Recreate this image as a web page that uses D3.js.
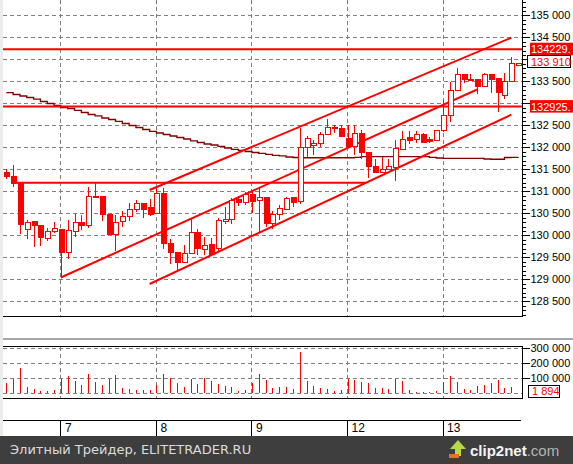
<!DOCTYPE html>
<html>
<head>
<meta charset="utf-8">
<script src="https://cdn.jsdelivr.net/npm/d3@7"></script>
<style>
  html, body { margin: 0; padding: 0; background: #fff; }
  svg { display: block; font-family: "Liberation Sans", Arial, sans-serif; }
</style>
</head>
<body>
<div id="chart"></div>
<script>
// Candles: 76 bars, days 6..13 (14 bars per day)
const opens = [131432,131341,131182,130137,130325,130212,129932,130091,130137,129605,
  130091,130296,130218,130893,130871,130484,130023,130309,130432,130591,
  130734,130621,130500,130955,129818,129614,129378,129591,130068,129673,
  129780,129689,130341,130364,130825,130750,130932,130780,130848,130273,
  130478,130591,130848,130757,132000,132068,132091,132296,132455,132432,
  132205,132014,132318,131893,131575,131432,131500,131546,131955,132228,
  132182,132296,132182,132159,132371,132728,133296,133659,133552,133546,
  133378,133659,133568,133182,133491,133870];
const highs = [131507,131598,131190,130348,130330,130215,130159,130296,130140,130341,
  130484,130462,131091,131196,130875,130490,130455,130546,130728,130803,
  130740,130825,131082,131082,129909,129620,129780,130400,130143,129962,
  129932,130400,130643,130841,130900,130991,130991,131068,130850,130552,
  130689,130878,130850,132439,132257,132166,132348,132637,132514,132500,
  132507,132507,132393,131895,131728,131787,131728,132166,132371,132371,
  132371,132332,132228,132393,133075,133491,133796,133665,133666,133550,
  133682,133665,133570,133682,134046,133915];
const lows = [131273,131105,130030,129923,129741,129764,129871,130046,129041,129462,
  129955,130121,130173,130850,130332,130000,129650,130182,130332,130537,
  130400,130446,130495,129682,129341,129189,129370,129585,129552,129552,
  129570,129643,130264,130257,130673,130689,130500,130046,130196,130150,
  130348,130585,130650,130712,131787,131825,132000,132290,132318,132228,
  132010,131825,131728,131296,131430,131430,131495,131241,131950,132075,
  132091,132110,132105,132143,132355,132582,133290,133455,133507,133205,
  133375,133228,132809,133098,133485,133865];
const closes = [131332,131182,130250,130296,130218,129955,130091,130159,129605,130105,
  130296,130218,130887,130855,130478,130007,130296,130432,130591,130728,
  130582,130484,130955,129809,129605,129378,129591,130068,129689,129773,
  129575,130341,130355,130787,130750,130932,130764,130848,130257,130478,
  130614,130832,130741,132000,132196,132082,132296,132455,132423,132241,
  132014,132318,131887,131559,131432,131500,131568,131962,132182,132150,
  132296,132114,132128,132371,132728,133296,133659,133530,133537,133378,
  133659,133552,133241,133491,133900,133910];
const volumes = [71000,97000,171000,44000,31000,15000,15000,22000,97000,115000,
  84000,57000,131000,77000,57000,97000,124000,35000,29000,22000,
  22000,22000,57000,131000,104000,71000,44000,97000,64000,104000,
  84000,64000,51000,44000,18000,22000,68000,131000,91000,38000,
  44000,44000,31000,275000,84000,51000,35000,31000,18000,22000,
  97000,91000,77000,71000,38000,38000,31000,97000,84000,22000,
  9000,9000,9000,18000,77000,115000,77000,31000,24000,51000,
  57000,71000,91000,38000,44000,1894];
const maValues = [133241,133200,133166,133132,133093,133041,132996,132950,132905,132882,
  132837,132791,132746,132712,132666,132632,132587,132541,132496,132450,
  132405,132364,132325,132291,132257,132223,132189,132148,132109,132075,
  132052,132023,131984,131955,131928,131905,131882,131864,131841,131818,
  131803,131780,131768,131762,131762,131762,131762,131762,131762,131762,
  131762,131773,131787,131787,131787,131787,131787,131787,131787,131787,
  131787,131787,131773,131757,131750,131750,131750,131750,131750,131750,
  131734,131728,131728,131768,131773,131780];

const dayStarts = [8, 22, 36, 50, 64];
const dayLabels = ['7', '8', '9', '12', '13'];
const priceTicks = [128500,129000,129500,130000,130500,131000,131500,132000,132500,133000,133500,134000,134500,135000];
const volumeTicks = [0, 100000, 200000, 300000];

// horizontal levels across the whole plot
const levelValues = [134229, 132925];
const levelLabels = ['134229.', '132925.'];
// short support level (start index, end index, price)
const supportLevel = [1.3, 52.6, 131196];
// trend channel lines: [startIndex, startPrice, endIndex, endPrice]
const channelLines = [
  [21, 131030, 74, 134490],
  [8, 129041, 69, 133314],
  [21, 128893, 74, 132741]
];

const W = 573, H = 464;
const left = 3, right = 522;
const priceBottom = 316;
const volTop = 346.5, volBottom = 398.5;
const stripTop = 420, footerTop = 436;
const red = '#ff0000';

const spaced = d => d3.format(',')(d).replace(/,/g, ' ');
const crisp = v => Math.round(v) + 0.5;

const x = d3.scaleLinear().domain([0, 75]).range([6.3, 518.1]);
const y = d3.scaleLinear().domain([128500, 135000]).range([301.3, 15.3]);
const yVol = d3.scaleLinear().domain([0, 300000]).range([393.3, 348.3]);

const lastClose = closes[closes.length - 1];
const boxedValues = levelValues.concat([lastClose]);

const svg = d3.select('#chart').append('svg')
  .attr('width', W)
  .attr('height', H);

svg.append('rect').attr('width', W).attr('height', H).attr('fill', '#fff');
svg.append('rect').attr('x', 0).attr('y', 0).attr('width', 3).attr('height', footerTop).attr('fill', '#ececec');

// ---- grid
const grid = svg.append('g')
  .attr('stroke', '#808080')
  .attr('stroke-dasharray', '4,3')
  .attr('shape-rendering', 'crispEdges');

grid.selectAll('.hgrid').data(priceTicks).enter().append('line')
  .attr('x1', left).attr('x2', right)
  .attr('y1', d => crisp(y(d))).attr('y2', d => crisp(y(d)));

grid.selectAll('.vgrid').data(dayStarts).enter().append('line')
  .attr('x1', d => crisp(x(d) - 0.5)).attr('x2', d => crisp(x(d) - 0.5))
  .attr('y1', 0).attr('y2', priceBottom);

grid.selectAll('.vhgrid').data(volumeTicks).enter().append('line')
  .attr('x1', left).attr('x2', right)
  .attr('y1', d => crisp(yVol(d))).attr('y2', d => crisp(yVol(d)));

grid.selectAll('.vvgrid').data(dayStarts).enter().append('line')
  .attr('x1', d => crisp(x(d) - 0.5)).attr('x2', d => crisp(x(d) - 0.5))
  .attr('y1', volTop).attr('y2', volBottom);

// ---- moving average
svg.append('path')
  .datum(maValues)
  .attr('fill', 'none')
  .attr('stroke', '#800000')
  .attr('stroke-width', 1.3)
  .attr('d', d3.line().x((d, i) => x(i)).y(d => y(d)).curve(d3.curveStepAfter));

// ---- levels and channel
const lines = svg.append('g').attr('stroke', red).attr('stroke-width', 2);

lines.selectAll('.level').data(levelValues).enter().append('line')
  .attr('x1', left).attr('x2', right)
  .attr('y1', d => y(d)).attr('y2', d => y(d));

lines.append('line')
  .attr('x1', x(supportLevel[0])).attr('x2', x(supportLevel[1]))
  .attr('y1', y(supportLevel[2])).attr('y2', y(supportLevel[2]));

lines.selectAll('.channel').data(channelLines).enter().append('line')
  .attr('x1', d => x(d[0])).attr('y1', d => y(d[1]))
  .attr('x2', d => x(d[2])).attr('y2', d => y(d[3]));

// ---- candles
const candles = opens.map((o, i) => ({ i, o, h: highs[i], l: lows[i], c: closes[i] }));
const cg = svg.append('g').attr('shape-rendering', 'crispEdges');

cg.selectAll('.wick').data(candles).enter().append('line')
  .attr('x1', d => crisp(x(d.i))).attr('x2', d => crisp(x(d.i)))
  .attr('y1', d => y(d.h)).attr('y2', d => y(d.l))
  .attr('stroke', red).attr('stroke-width', 1);

cg.selectAll('.body').data(candles).enter().append('rect')
  .attr('x', d => Math.round(x(d.i)) - 2.5 + 0.5)
  .attr('width', 5)
  .attr('y', d => y(Math.max(d.o, d.c)))
  .attr('height', d => Math.max(1.5, y(Math.min(d.o, d.c)) - y(Math.max(d.o, d.c))))
  .attr('fill', d => d.c < d.o ? red : '#fff')
  .attr('stroke', red)
  .attr('stroke-width', 1);

// ---- price axis
svg.append('line')
  .attr('x1', crisp(right)).attr('x2', crisp(right))
  .attr('y1', 0).attr('y2', priceBottom)
  .attr('stroke', '#000').attr('shape-rendering', 'crispEdges');

svg.append('g')
  .attr('transform', `translate(${crisp(right)},0)`)
  .call(d3.axisRight(y).tickValues(d3.range(128200, 135400, 100)).tickSize(3).tickFormat(''))
  .call(g => g.select('.domain').remove())
  .call(g => g.selectAll('line').attr('shape-rendering', 'crispEdges'));

svg.append('g')
  .attr('transform', `translate(${crisp(right)},0)`)
  .call(d3.axisRight(y).tickValues(priceTicks).tickSize(7).tickPadding(1).tickFormat(spaced))
  .call(g => g.select('.domain').remove())
  .call(g => g.selectAll('line').attr('shape-rendering', 'crispEdges'))
  .call(g => g.selectAll('text').attr('font-size', '11px').attr('fill', '#000')
    .attr('font-family', '"Liberation Sans", Arial, sans-serif'))
  // labels hidden behind the value boxes
  .call(g => g.selectAll('.tick')
    .filter(d => boxedValues.some(b => Math.abs(y(d) - y(b)) < 9))
    .select('text').remove());

svg.append('line')
  .attr('x1', left).attr('x2', right + 0.5)
  .attr('y1', crisp(priceBottom)).attr('y2', crisp(priceBottom))
  .attr('stroke', '#000').attr('shape-rendering', 'crispEdges');

// level labels (red boxes)
levelValues.forEach((v, k) => {
  svg.append('rect')
    .attr('x', 530).attr('y', y(v) - 6.5)
    .attr('width', 45).attr('height', 12.5)
    .attr('fill', red);
  svg.append('text')
    .attr('x', 531).attr('y', y(v))
    .attr('dy', '0.36em')
    .attr('font-size', '11px').attr('fill', '#fff')
    .text(levelLabels[k]);
});

// last price box
svg.append('rect')
  .attr('x', 527.5).attr('y', Math.round(y(lastClose)) - 7.5)
  .attr('width', 43).attr('height', 12)
  .attr('fill', '#fff').attr('stroke', '#000')
  .attr('shape-rendering', 'crispEdges');
svg.append('text')
  .attr('x', 531).attr('y', Math.round(y(lastClose)) - 1)
  .attr('dy', '0.36em')
  .attr('font-size', '11px').attr('fill', red)
  .text(spaced(lastClose));

// ---- separator between panels
svg.append('line')
  .attr('x1', left).attr('x2', W)
  .attr('y1', 339).attr('y2', 339)
  .attr('stroke', '#a8a8a8').attr('stroke-width', 2);

// ---- volume panel
svg.append('g')
  .attr('shape-rendering', 'crispEdges')
  .selectAll('.vol').data(volumes).enter().append('line')
  .attr('x1', (d, i) => crisp(x(i))).attr('x2', (d, i) => crisp(x(i)))
  .attr('y1', yVol(0)).attr('y2', d => yVol(d))
  .attr('stroke', red).attr('stroke-width', 1);

[volTop, volBottom].forEach(v => {
  svg.append('line')
    .attr('x1', left).attr('x2', right + 0.5)
    .attr('y1', v).attr('y2', v)
    .attr('stroke', '#000').attr('shape-rendering', 'crispEdges');
});
svg.append('line')
  .attr('x1', crisp(right)).attr('x2', crisp(right))
  .attr('y1', volTop).attr('y2', volBottom)
  .attr('stroke', '#000').attr('shape-rendering', 'crispEdges');

svg.append('g')
  .attr('transform', `translate(${crisp(right)},0)`)
  .call(d3.axisRight(yVol).tickValues(volumeTicks.slice(1)).tickSize(7).tickPadding(1).tickFormat(spaced))
  .call(g => g.select('.domain').remove())
  .call(g => g.selectAll('line').attr('shape-rendering', 'crispEdges'))
  .call(g => g.selectAll('text').attr('font-size', '11px').attr('fill', '#000')
    .attr('font-family', '"Liberation Sans", Arial, sans-serif'));

const lastVol = volumes[volumes.length - 1];
svg.append('rect')
  .attr('x', 528.5).attr('y', 385.5)
  .attr('width', 31).attr('height', 12)
  .attr('fill', '#fff').attr('stroke', '#000')
  .attr('shape-rendering', 'crispEdges');
svg.append('text')
  .attr('x', 532).attr('y', 391.5)
  .attr('dy', '0.36em')
  .attr('font-size', '11px').attr('fill', red)
  .text(spaced(lastVol));

// ---- time strip
svg.append('line')
  .attr('x1', left).attr('x2', 521)
  .attr('y1', crisp(stripTop)).attr('y2', crisp(stripTop))
  .attr('stroke', '#000').attr('shape-rendering', 'crispEdges');

svg.selectAll('.daytick').data(dayStarts).enter().append('line')
  .attr('x1', d => crisp(x(d) - 0.5)).attr('x2', d => crisp(x(d) - 0.5))
  .attr('y1', stripTop).attr('y2', footerTop)
  .attr('stroke', '#000').attr('shape-rendering', 'crispEdges');

svg.selectAll('.daylabel').data(dayStarts).enter().append('text')
  .attr('x', d => x(d) + 4)
  .attr('y', 432)
  .attr('font-size', '12px').attr('fill', '#000')
  .text((d, k) => dayLabels[k]);

// ---- footer
svg.append('rect')
  .attr('x', 0).attr('y', footerTop)
  .attr('width', W).attr('height', H - footerTop)
  .attr('fill', '#3e3e3e');

svg.append('text')
  .attr('x', 10).attr('y', 454)
  .attr('font-family', '"DejaVu Sans", Verdana, sans-serif')
  .attr('font-size', '13px').attr('fill', '#dcdcdc')
  .text('Элитный Трейдер, ELITETRADER.RU');

// clip2net mark
const logo = svg.append('g');
logo.append('path')
  .attr('d', 'M450,449 L458,440 L466,449 L461,449 L461,456 L455,456 L455,449 Z')
  .attr('fill', '#b8d84a');
logo.append('rect')
  .attr('x', 449).attr('y', 454).attr('width', 10).attr('height', 4)
  .attr('fill', '#e8731f');
const logoText = logo.append('text')
  .attr('x', 470).attr('y', 456)
  .attr('font-size', '15px').attr('font-weight', 'bold');
logoText.append('tspan').attr('fill', '#f4f4f4').text('clip2net');
logoText.append('tspan').attr('fill', '#b4b4b4').attr('font-weight', 'normal').text('.com');
</script>
</body>
</html>
